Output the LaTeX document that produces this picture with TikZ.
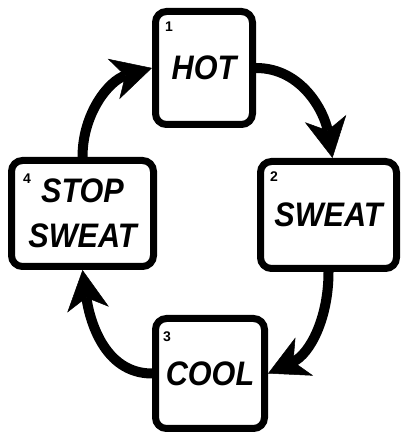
\documentclass[tikz,border=0pt]{standalone}
\usepackage{fontspec}
\setmainfont{Liberation Sans}
\newfontfamily\signfont[FakeStretch=0.9]{Liberation Sans}
\usetikzlibrary{arrows.meta}
\definecolor{ink}{HTML}{000000}

\begin{document}
\begin{tikzpicture}[x=1pt,y=1pt,
  sign/.style={draw=ink,fill=white,line width=7pt,rounded corners=11pt,inner sep=0pt,align=center,font=\signfont\bfseries\itshape\fontsize{34}{45}\selectfont},
  num/.style={font=\bfseries\fontsize{14}{14}\selectfont,inner sep=0pt,anchor=north west},
  cyc/.style={ink,line width=10pt,-{Stealth[length=40pt,width=42pt,inset=12pt,line width=.5pt]}}]
\useasboundingbox (0,0) rectangle (403,433);
% the four stages
\node[sign,minimum width=97pt,minimum height=113pt] (hot) at (204,365) {HOT};
\node[sign,minimum width=136pt,minimum height=107pt] (sweat) at (328.5,218) {SWEAT};
\node[sign,minimum width=109pt,minimum height=110pt] (cool) at (210,59.5) {COOL};
\node[sign,minimum width=142pt,minimum height=106pt] (stop) at (82.5,219.5) {STOP\\SWEAT};
\node[num] (n1) at ([shift={(13,-14)}]hot.north west) {1};
\node[num] (n2) at ([shift={(13,-14)}]sweat.north west) {2};
\node[num] (n3) at ([shift={(11,-17)}]cool.north west) {3};
\node[num] (n4) at ([shift={(15,-17)}]stop.north west) {4};
% cycle
\draw[cyc] (hot.east) to[out=0,in=100] ([xshift=4pt]sweat.north);
\draw[cyc] (sweat.south) to[out=-90,in=25] (cool.east);
\draw[cyc] (cool.west) to[out=180,in=-82] (stop.south);
\draw[cyc] (stop.north) to[out=90,in=-164] (hot.west);
\end{tikzpicture}
\end{document}
